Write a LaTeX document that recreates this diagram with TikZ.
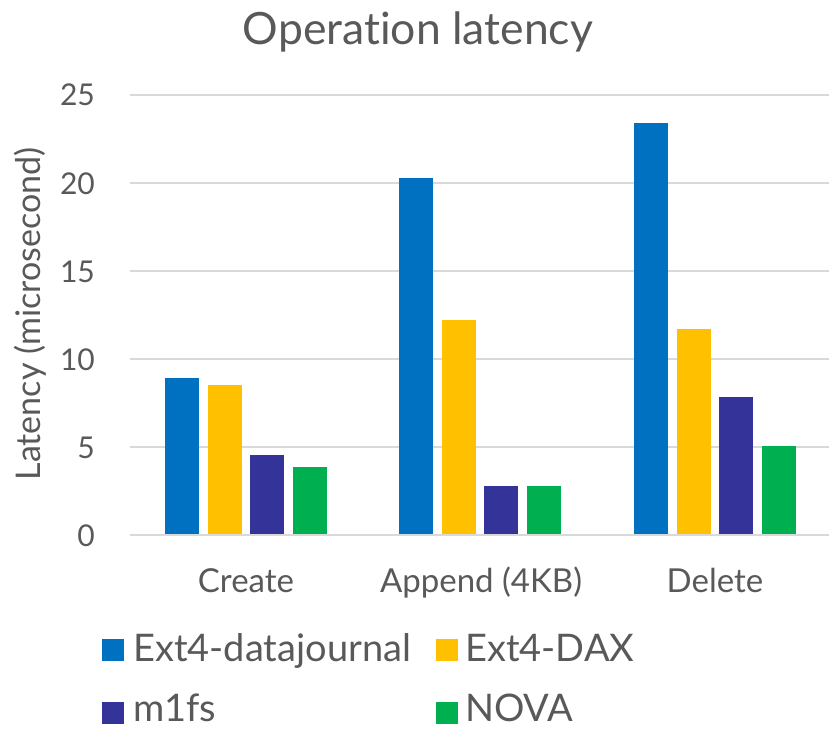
\documentclass[tikz,border=0pt]{standalone}
\usepackage{fontspec}
\setmainfont{Lato}[Ligatures=NoCommon]
\definecolor{txt}{HTML}{595959}
\definecolor{grid}{HTML}{D9D9D9}
\definecolor{sA}{HTML}{0070C0}
\definecolor{sB}{HTML}{FFC000}
\definecolor{sC}{HTML}{333399}
\definecolor{sD}{HTML}{00B050}
\begin{document}
\begin{tikzpicture}[x=1pt,y=-1pt,
  gridline/.style={draw=grid,line width=1.5pt},
  ticklabel/.style={text=txt,font=\fontsize{30}{30}\selectfont,anchor=base east,inner sep=0pt},
  catlabel/.style={text=txt,font=\fontsize{33}{33}\selectfont,anchor=base,inner sep=0pt},
  legtext/.style={text=txt,font=\fontsize{38}{38}\selectfont,anchor=base west,inner sep=0pt},
  legkey/.style={minimum size=22pt,inner sep=0pt,anchor=north west}]
\useasboundingbox (0,0) rectangle (829,730);
% title
\node[text=txt,font=\fontsize{44.5}{44.5}\selectfont,inner sep=0pt,anchor=base] (title) at (418,45) {Operation latency};
% axis title
\node[text=txt,font=\fontsize{34}{34}\selectfont,rotate=90,inner sep=0pt] (ytitle) at (30,314) {Latency (microsecond)};
% grid lines and tick labels: value v sits at y = 535 - 17.6 v
\foreach \v in {0,5,...,25}{
  \draw[gridline] (130,{535-17.6*\v}) -- (829,{535-17.6*\v});
  \node[ticklabel] (tick\v) at (95,{546-17.6*\v}) {\v};
}
% bars: group offset, then values for the four series
\newcommand{\drawbars}[5]{%
  \fill[sA] (#1+165,535) rectangle (#1+199,{535-17.6*#2});
  \fill[sB] (#1+208,535) rectangle (#1+242,{535-17.6*#3});
  \fill[sC] (#1+250,535) rectangle (#1+284,{535-17.6*#4});
  \fill[sD] (#1+293,535) rectangle (#1+327,{535-17.6*#5});
}
\drawbars{0}{8.92}{8.5}{4.55}{3.86}
\drawbars{234}{20.28}{12.2}{2.8}{2.8}
\drawbars{469}{23.4}{11.7}{7.82}{5.06}
\draw[gridline] (130,535) -- (829,535);
% category labels
\node[catlabel] (c1) at (246,592) {Create};
\node[catlabel] (c2) at (481,592) {Append (4KB)};
\node[catlabel] (c3) at (715,592) {Delete};
% legend
\node[legkey,fill=sA] (k1) at (102,639) {};
\node[legtext] (l1) at (133,661) {Ext4-datajournal};
\node[legkey,fill=sB] (k2) at (436,639) {};
\node[legtext] (l2) at (465,661) {Ext4-DAX};
\node[legkey,fill=sC] (k3) at (102,702) {};
\node[legtext] (l3) at (133,721) {m1fs};
\node[legkey,fill=sD] (k4) at (436,702) {};
\node[legtext] (l4) at (465,721) {NOVA};
\end{tikzpicture}
\end{document}
